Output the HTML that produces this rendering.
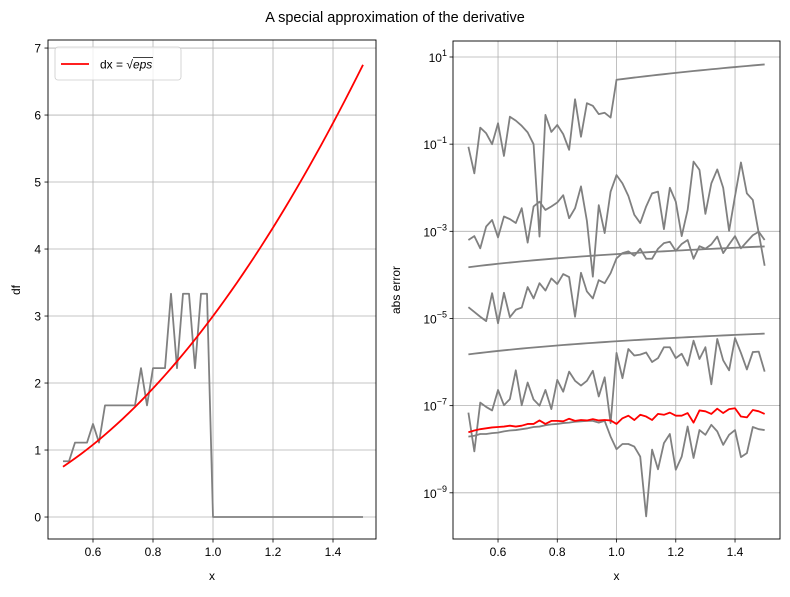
<!DOCTYPE html>
<html><head><meta charset="utf-8"><style>
body{margin:0;background:#fff;}
svg text{font-family:"Liberation Sans","DejaVu Sans",sans-serif;fill:#000;}
</style></head><body>
<svg id="fig" width="790" height="592" viewBox="0 0 790 592" xmlns="http://www.w3.org/2000/svg">
<rect width="790" height="592" fill="#fff"/>
<text x="395" y="22" font-size="14.5" text-anchor="middle">A special approximation of the derivative</text>
<g id="left"></g>
<g id="right"></g>
</svg>
<script>
// ---- data ----
const xs = [];
for (let i = 0; i <= 50; i++) xs.push(+(0.5 + 0.02 * i).toFixed(2));
const dfExact = [0.75,0.8112,0.8748,0.9408,1.0092,1.08,1.1532,1.2288,1.3068,1.3872,1.47,1.5552,1.6428,1.7328,1.8252,1.92,2.0172,2.1168,2.2188,2.3232,2.43,2.5392,2.6508,2.7648,2.8812,3,3.1212,3.2448,3.3708,3.4992,3.63,3.7632,3.8988,4.0368,4.1772,4.32,4.4652,4.6128,4.7628,4.9152,5.07,5.2272,5.3868,5.5488,5.7132,5.88,6.0492,6.2208,6.3948,6.5712,6.75];
const dfTiny = [0.833,0.833,1.111,1.111,1.111,1.389,1.111,1.667,1.667,1.667,1.667,1.667,1.667,2.222,1.667,2.222,2.222,2.222,3.333,2.222,3.333,3.333,2.222,3.333,3.333,0,0,0,0,0,0,0,0,0,0,0,0,0,0,0,0,0,0,0,0,0,0,0,0,0,0];
const leftYTicks = [0,1,2,3,4,5,6,7];
const xTicks = [0.6,0.8,1.0,1.2,1.4];
// right: log10 of abs error
const errA = [-1.06,-1.67,-0.62,-0.75,-1.0,-0.52,-1.27,-0.37,-0.46,-0.58,-0.73,-1.0,-3.12,-0.33,-0.72,-0.56,-0.77,-1.13,0.03,-0.83,-0.06,-0.12,-0.31,-0.28,-0.39,0.477,0.494,0.511,0.528,0.544,0.560,0.576,0.591,0.606,0.621,0.635,0.650,0.664,0.678,0.692,0.705,0.718,0.731,0.744,0.757,0.769,0.782,0.794,0.806,0.818,0.829];
const errB = [-3.20,-3.11,-3.39,-2.89,-2.74,-3.14,-2.66,-2.72,-2.81,-2.47,-3.26,-2.43,-2.32,-2.51,-2.43,-2.34,-2.17,-2.70,-2.47,-1.97,-2.76,-4.04,-2.40,-3.04,-2.09,-1.71,-1.90,-2.19,-2.62,-2.81,-2.43,-2.13,-2.09,-2.95,-2.00,-2.32,-3.11,-2.51,-1.40,-1.59,-2.60,-1.90,-1.58,-2.00,-2.99,-2.19,-1.42,-2.13,-2.28,-3.04,-3.79];
const errC = [-4.74,-4.85,-4.96,-5.06,-4.42,-5.11,-4.41,-4.97,-4.80,-4.75,-4.28,-4.54,-4.19,-4.36,-4.08,-4.21,-3.98,-4.05,-4.96,-3.95,-4.38,-4.54,-4.12,-4.19,-3.96,-3.62,-3.50,-3.46,-3.56,-3.40,-3.63,-3.63,-3.40,-3.27,-3.24,-3.45,-3.29,-3.20,-3.63,-3.34,-3.40,-3.30,-3.12,-3.50,-3.30,-3.11,-3.39,-3.24,-3.09,-3.01,-3.20];
const errD = [-7.16,-8.05,-6.93,-7.03,-7.11,-6.64,-6.99,-6.85,-6.19,-6.99,-6.47,-6.86,-7.00,-6.64,-7.08,-6.41,-6.68,-6.22,-6.43,-6.54,-6.43,-6.20,-6.79,-6.35,-7.40,-5.79,-6.37,-5.70,-5.85,-5.83,-5.78,-6.00,-5.91,-5.66,-5.66,-5.91,-5.81,-6.08,-5.51,-5.93,-5.66,-6.51,-5.47,-5.96,-6.19,-5.45,-5.79,-6.17,-5.77,-5.76,-6.22];
const errE = [-7.71,-7.69,-7.65,-7.65,-7.63,-7.62,-7.59,-7.57,-7.56,-7.54,-7.52,-7.49,-7.48,-7.45,-7.43,-7.42,-7.40,-7.39,-7.37,-7.36,-7.35,-7.35,-7.39,-7.35,-7.71,-8.00,-7.88,-7.88,-7.94,-8.17,-9.54,-8.01,-8.46,-7.86,-7.65,-8.47,-8.17,-7.48,-8.20,-7.56,-7.67,-7.44,-7.59,-7.90,-7.67,-7.56,-8.18,-8.09,-7.49,-7.54,-7.56];
const errSqrtEps = [-7.61,-7.57,-7.54,-7.52,-7.50,-7.49,-7.48,-7.46,-7.48,-7.46,-7.42,-7.42,-7.34,-7.42,-7.35,-7.35,-7.36,-7.30,-7.35,-7.33,-7.34,-7.31,-7.34,-7.33,-7.34,-7.42,-7.29,-7.23,-7.33,-7.21,-7.25,-7.33,-7.19,-7.21,-7.16,-7.23,-7.23,-7.17,-7.39,-7.11,-7.13,-7.19,-7.07,-7.17,-7.08,-7.06,-7.25,-7.27,-7.10,-7.13,-7.19];
const smoothMant = [1.50,1.56,1.62,1.68,1.74,1.80,1.86,1.92,1.98,2.04,2.10,2.16,2.22,2.28,2.34,2.40,2.46,2.52,2.58,2.64,2.70,2.76,2.82,2.88,2.94,3.00,3.06,3.12,3.18,3.24,3.30,3.36,3.42,3.48,3.54,3.60,3.66,3.72,3.78,3.84,3.90,3.96,4.02,4.08,4.14,4.20,4.26,4.32,4.38,4.44,4.50];
const errDx4 = smoothMant.map(v => Math.log10(v * 1e-4));
const errDx6 = smoothMant.map(v => Math.log10(v * 1e-6));
const rightYTicks = [1,-1,-3,-5,-7,-9];

const NS = "http://www.w3.org/2000/svg";
function mk(parent, tag, attrs, name, txt) {
  const e = document.createElementNS(NS, tag);
  for (const k in attrs) e.setAttribute(k, attrs[k]);
  
  
  if (txt !== undefined) e.textContent = txt;
  parent.appendChild(e);
  return e;
}
function axes(g, box, xmin, xmax, ymin, ymax) {
  const sx = v => box.l + (v - xmin) / (xmax - xmin) * (box.r - box.l);
  const sy = v => box.b - (v - ymin) / (ymax - ymin) * (box.b - box.t);
  return {sx, sy};
}
function drawFrame(g, box, sx, sy, yTicks, yLabel, log, prefix) {
  xTicks.forEach(t => {
    const x = sx(t);
    mk(g, 'line', {x1:x, x2:x, y1:box.t, y2:box.b, stroke:'#b0b0b0', 'stroke-width':0.8}, prefix + '-x-grid');
    mk(g, 'line', {x1:x, x2:x, y1:box.b, y2:box.b + 3.5, stroke:'#000', 'stroke-width':0.8}, prefix + '-x-tick');
    mk(g, 'text', {x:x, y:box.b + 17, 'font-size':12, 'text-anchor':'middle'}, prefix + '-x-tick-label', t.toFixed(1));
  });
  yTicks.forEach(t => {
    const y = sy(t);
    mk(g, 'line', {x1:box.l, x2:box.r, y1:y, y2:y, stroke:'#b0b0b0', 'stroke-width':0.8}, prefix + '-y-grid');
    mk(g, 'line', {x1:box.l - 3.5, x2:box.l, y1:y, y2:y, stroke:'#000', 'stroke-width':0.8}, prefix + '-y-tick');
    if (log) {
      const tx = mk(g, 'text', {x:box.l - 6, y:y + 5, 'font-size':12, 'text-anchor':'end'}, prefix + '-y-tick-label');
      const a = document.createElementNS(NS, 'tspan'); a.textContent = '10'; tx.appendChild(a);
      const b = document.createElementNS(NS, 'tspan'); b.setAttribute('dy', -6); b.setAttribute('font-size', 9);
      b.textContent = (t < 0 ? '\u2212' + (-t) : String(t)); tx.appendChild(b);
    } else {
      mk(g, 'text', {x:box.l - 7, y:y + 4.5, 'font-size':12, 'text-anchor':'end'}, prefix + '-y-tick-label', String(t));
    }
  });
  mk(g, 'text', {x:(box.l + box.r) / 2, y:580, 'font-size':12, 'text-anchor':'middle'}, prefix + '-x-axis-title', 'x');
}
function line(g, sx, sy, ys, color, name) {
  const pts = xs.map((x, i) => sx(x).toFixed(2) + ',' + sy(ys[i]).toFixed(2)).join(' ');
  mk(g, 'polyline', {points:pts, fill:'none', stroke:color, 'stroke-width':1.8, 'stroke-linejoin':'round'}, name);
}

// left chart
const gl = document.getElementById('left');
const bl = {l:48, r:376, t:40, b:539};
const L = axes(gl, bl, 0.45, 1.5433, -0.328, 7.12);
drawFrame(gl, bl, L.sx, L.sy, leftYTicks, 'df', false, 'left');
mk(gl, 'text', {x:0, y:0, 'font-size':12, 'text-anchor':'middle', transform:'translate(20,290) rotate(-90)'}, 'left-y-axis-title', 'df');
line(gl, L.sx, L.sy, dfTiny, '#808080', 'left-series-tiny-dx');
line(gl, L.sx, L.sy, dfExact, '#ff0000', 'left-series-sqrt-eps');
mk(gl, 'rect', {x:bl.l, y:bl.t, width:bl.r - bl.l, height:bl.b - bl.t, fill:'none', stroke:'#000', 'stroke-width':0.9}, 'left-plot-frame');
// legend
const lg = mk(gl, 'g', {}, 'legend');
mk(lg, 'rect', {x:55, y:47, width:126, height:33, rx:3, fill:'#fff', 'fill-opacity':0.8, stroke:'#cccccc', 'stroke-width':0.8}, 'legend-box');
mk(lg, 'line', {x1:61, x2:89, y1:64, y2:64, stroke:'#ff0000', 'stroke-width':1.8}, 'legend-swatch');
const lt = mk(lg, 'text', {x:100, y:68.5, 'font-size':12}, 'legend-entry');
const t1 = document.createElementNS(NS, 'tspan'); t1.textContent = 'dx = \u221A'; lt.appendChild(t1);
const t2 = document.createElementNS(NS, 'tspan'); t2.setAttribute('font-style', 'italic'); t2.textContent = 'eps'; lt.appendChild(t2);
mk(lg, 'line', {x1:133, x2:153, y1:57.5, y2:57.5, stroke:'#000', 'stroke-width':0.8}, 'legend-sqrt-bar');

// right chart
const gr = document.getElementById('right');
const br = {l:453, r:780, t:41, b:539};
const R = axes(gr, br, 0.448, 1.5518, -10.06, 1.367);
drawFrame(gr, br, R.sx, R.sy, rightYTicks, 'abs error', true, 'right');
mk(gr, 'text', {x:0, y:0, 'font-size':12, 'text-anchor':'middle', transform:'translate(400,290) rotate(-90)'}, 'right-y-axis-title', 'abs error');
line(gr, R.sx, R.sy, errA, '#808080', 'right-series-a');
line(gr, R.sx, R.sy, errB, '#808080', 'right-series-b');
line(gr, R.sx, R.sy, errDx4, '#808080', 'right-series-dx4');
line(gr, R.sx, R.sy, errC, '#808080', 'right-series-c');
line(gr, R.sx, R.sy, errDx6, '#808080', 'right-series-dx6');
line(gr, R.sx, R.sy, errD, '#808080', 'right-series-d');
line(gr, R.sx, R.sy, errE, '#808080', 'right-series-e');
line(gr, R.sx, R.sy, errSqrtEps, '#ff0000', 'right-series-sqrt-eps');
mk(gr, 'rect', {x:br.l, y:br.t, width:br.r - br.l, height:br.b - br.t, fill:'none', stroke:'#000', 'stroke-width':0.9}, 'right-plot-frame');
</script>
</body></html>
